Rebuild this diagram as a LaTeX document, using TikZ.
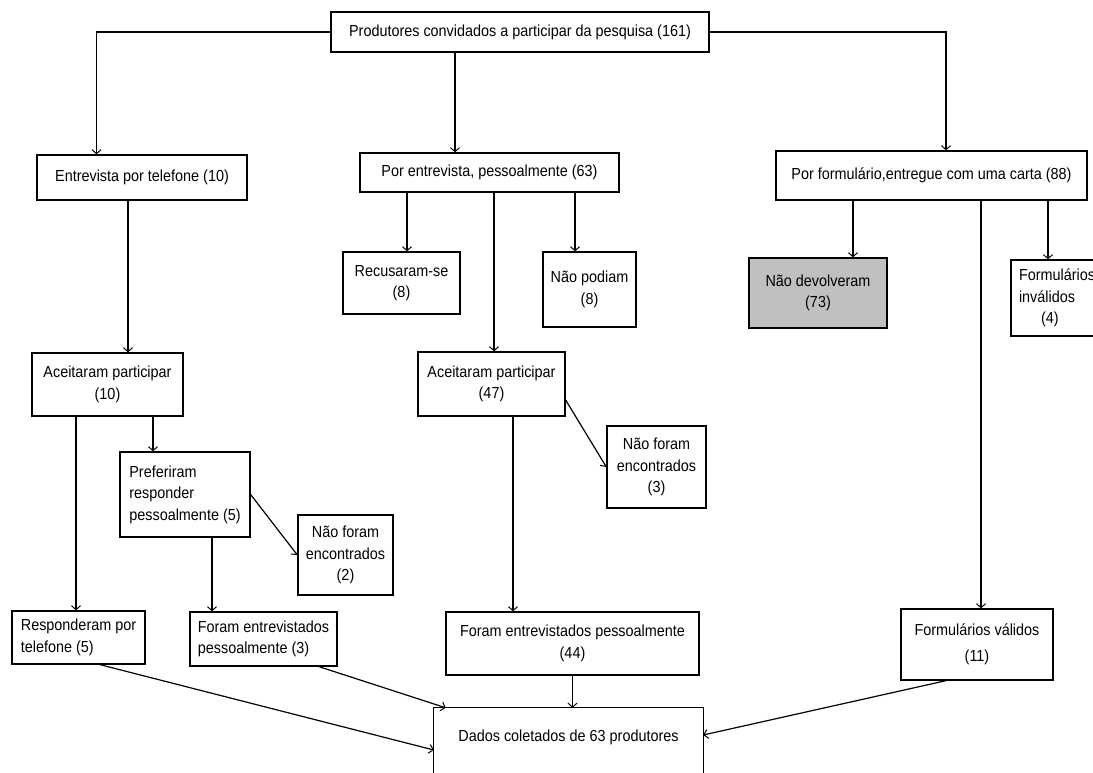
\documentclass[tikz,border=0pt]{standalone}
\usepackage{fontspec}
\setmainfont{Liberation Sans}[FakeStretch=0.9]
\usetikzlibrary{arrows.meta}
\definecolor{boxgray}{HTML}{C0C0C0}
\begin{document}
\begin{tikzpicture}[x=1pt,y=-1pt,
  box/.style={draw, line width=1.3pt, inner sep=0pt, align=center,
    font=\fontsize{16}{21.5}\selectfont},
  txt/.style={inner sep=0pt, align=center, font=\fontsize{16}{21.5}\selectfont},
  arr/.style={line width=1.2pt, -{Straight Barb[length=4pt,width=9pt,line width=1pt]}}]
\useasboundingbox (0,0) rectangle (1093,772);
\clip (0,0) rectangle (1093,772);

% boxes
\node[box, minimum width=378pt, minimum height=40pt] (top) at (520,32) {Produtores convidados a participar da pesquisa (161)};
\node[box, minimum width=210pt, minimum height=45pt] (tel) at (142,177.5) {Entrevista por telefone (10)};
\node[box, minimum width=259pt, minimum height=39pt] (pes) at (489.5,172.5) {Por entrevista, pessoalmente (63)};
\node[box, minimum width=311pt, minimum height=49pt] (form) at (931.5,175.5) {Por formulário,entregue com uma carta (88)};
\node[box, minimum width=117pt, minimum height=62pt] (recus) at (401.5,283) {Recusaram-se\\(8)};
\node[box, minimum width=93pt, minimum height=75pt] (podiam) at (589.5,289.5) {Não podiam\\(8)};
\node[box, fill=boxgray, minimum width=138pt, minimum height=70pt] (naodev) at (818,293) {Não devolveram\\(73)};
\node[box, align=left, minimum width=92pt, minimum height=76pt] (inval) at (1057,298) {Formulários\\inválidos\\\hspace*{22pt}(4)};
\node[box, minimum width=151pt, minimum height=63pt] (acc10) at (107.5,384.5) {Aceitaram participar\\(10)};
\node[box, align=left, minimum width=130pt, minimum height=85pt] (pref) at (185,494.5) {Preferiram\\responder\\pessoalmente (5)};
\node[box, minimum width=95pt, minimum height=80pt] (naof2) at (345.5,555) {Não foram\\encontrados\\(2)};
\node[box, minimum width=147pt, minimum height=64pt] (acc47) at (491.5,384) {Aceitaram participar\\(47)};
\node[box, minimum width=99pt, minimum height=82pt] (naof3) at (656.5,467) {Não foram\\encontrados\\(3)};
\node[box, align=left, minimum width=133pt, minimum height=53pt] (resp) at (78.5,637.5) {Responderam por\\telefone (5)};
\node[box, align=left, minimum width=147pt, minimum height=54pt] (foram3) at (263.5,639) {Foram entrevistados\\pessoalmente (3)};
\node[box, minimum width=253pt, minimum height=63pt] (foram44) at (572.5,643.5) {Foram entrevistados pessoalmente\\(44)};
\node[box, minimum width=152pt, minimum height=71pt] (valid) at (977,644.5) {Formulários válidos\\[5pt](11)};
\node[txt, minimum width=269pt, minimum height=58pt] (dados) at (568.5,737) {Dados coletados de 63 produtores};
\draw[line width=1.3pt] (dados.north west) rectangle ([yshift=-40pt]dados.south east);

% connectors
\draw[arr] (top.west) -| ([xshift=-45.5pt]tel.north);
\draw[arr] ([xshift=-65pt]top.south) -- ([xshift=-65pt]top.south |- pes.north);
\draw[arr] (top.east) -| ([xshift=14.5pt]form.north);
\draw[arr] ([xshift=-14pt]tel.south) -- ([xshift=-14pt]tel.south |- acc10.north);
\draw[arr] ([xshift=-82.5pt]pes.south) -- ([xshift=-82.5pt]pes.south |- recus.north);
\draw[arr] ([xshift=85.5pt]pes.south) -- ([xshift=85.5pt]pes.south |- podiam.north);
\draw[arr] ([xshift=4.5pt]pes.south) -- ([xshift=4.5pt]pes.south |- acc47.north);
\draw[arr] ([xshift=-78.5pt]form.south) -- ([xshift=-78.5pt]form.south |- naodev.north);
\draw[arr] ([xshift=49.5pt]form.south) -- ([xshift=49.5pt]form.south |- valid.north);
\draw[arr] ([xshift=116.5pt]form.south) -- ([xshift=116.5pt]form.south |- inval.north);
\draw[arr] ([xshift=-31.5pt]acc10.south) -- ([xshift=-31.5pt]acc10.south |- resp.north);
\draw[arr] ([xshift=45.5pt]acc10.south) -- ([xshift=45.5pt]acc10.south |- pref.north);
\draw[arr] ([xshift=27pt]pref.south) -- ([xshift=27pt]pref.south |- foram3.north);
\draw[arr] (pref.east) -- (naof2.west);
\draw[arr] ([yshift=-16pt]acc47.east) -- (naof3.west);
\draw[arr] ([xshift=21.5pt]acc47.south) -- ([xshift=21.5pt]acc47.south |- foram44.north);
\draw[arr] ([xshift=21.5pt]resp.south) -- ([yshift=-13pt]dados.west);
\draw[arr] ([xshift=55.5pt]foram3.south) -- ([xshift=12pt]dados.north west);
\draw[arr] (foram44.south) -- (foram44.south |- dados.north);
\draw[arr] ([xshift=-31pt]valid.south) -- ([yshift=2pt]dados.east);
\end{tikzpicture}
\end{document}
